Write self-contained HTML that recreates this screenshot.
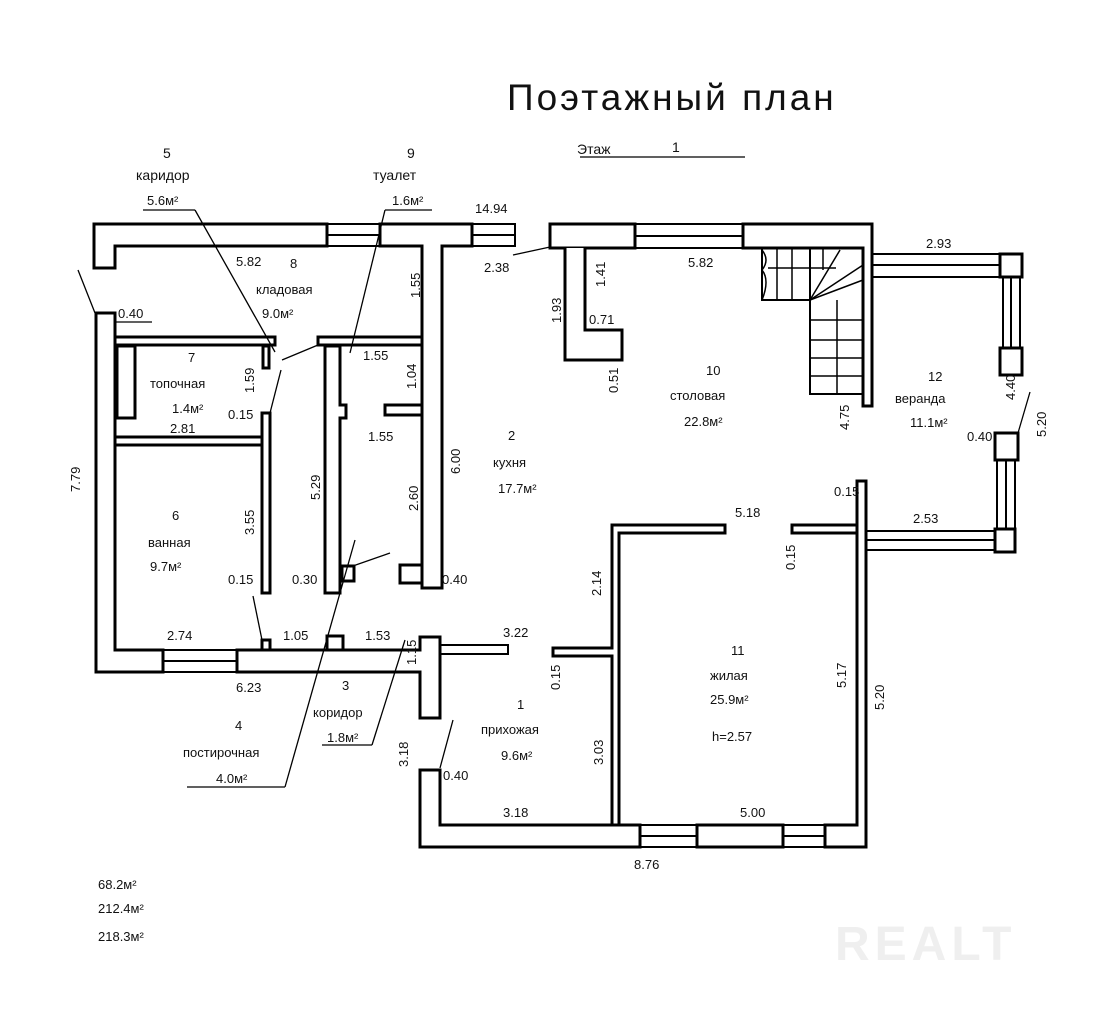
<!DOCTYPE html>
<html><head><meta charset="utf-8"><style>
html,body{margin:0;padding:0;background:#fff;}
svg{display:block;}
text{font-family:"Liberation Sans","DejaVu Sans",sans-serif;fill:#111;}
</style></head><body>
<svg width="1107" height="1023" viewBox="0 0 1107 1023" xmlns="http://www.w3.org/2000/svg">
<g fill="#fff" stroke="#000" stroke-width="3" stroke-linejoin="miter">
<path d="M94,224 L327,224 L327,246 L115,246 L115,268 L94,268 Z"/>
<path d="M380,224 L472,224 L472,246 L442,246 L442,588 L422,588 L422,246 L380,246 Z"/>
<path d="M96,313 L115,313 L115,650 L163,650 L163,672 L96,672 Z"/>
<path d="M237,650 L420,650 L420,637 L440,637 L440,718 L420,718 L420,672 L237,672 Z"/>
<rect x="115" y="337" width="160" height="8"/>
<rect x="318" y="337" width="104" height="8"/>
<rect x="115" y="437" width="148" height="8"/>
<rect x="117" y="346" width="18" height="72"/>
<rect x="262" y="413" width="8" height="180"/>
<rect x="263" y="346" width="6" height="22"/>
<path d="M325,346 L340,346 L340,405 L346,405 L346,418 L340,418 L340,593 L325,593 Z"/>
<rect x="385" y="405" width="37" height="10"/>
<rect x="400" y="565" width="22" height="18"/>
<rect x="342" y="566" width="12" height="15"/>
<rect x="262" y="640" width="8" height="10"/>
<rect x="327" y="636" width="16" height="14"/>
<path d="M550,224 L635,224 L635,248 L550,248 Z"/>
<path d="M743,224 L872,224 L872,406 L863,406 L863,248 L743,248 Z"/>
<path d="M565,248 L565,360 L622,360 L622,330 L585,330 L585,248"/>
<path d="M420,770 L440,770 L440,825 L640,825 L640,847 L420,847 Z"/>
<rect x="697" y="825" width="86" height="22"/>
<path d="M825,825 L857,825 L857,481 L866,481 L866,847 L825,847 Z"/>
<path d="M612,525 L725,525 L725,533 L619,533 L619,825 L612,825 L612,656 L553,656 L553,648 L612,648 Z"/>
<rect x="792" y="525" width="65" height="8"/>
<rect x="1000" y="254" width="22" height="23"/>
<rect x="1000" y="348" width="22" height="27"/>
<rect x="995" y="433" width="23" height="27"/>
<rect x="995" y="529" width="20" height="23"/>
</g>
<g fill="none" stroke="#000" stroke-width="2">
<rect x="327" y="224" width="53" height="22"/><line x1="327" y1="235" x2="380" y2="235"/>
<rect x="472" y="224" width="43" height="22"/><line x1="472" y1="235" x2="515" y2="235"/>
<rect x="163" y="650" width="74" height="22"/><line x1="163" y1="661" x2="237" y2="661"/>
<rect x="440" y="645" width="68" height="9"/>
<rect x="635" y="224" width="108" height="24"/><line x1="635" y1="236" x2="743" y2="236"/>
<rect x="640" y="825" width="57" height="22"/><line x1="640" y1="836" x2="697" y2="836"/>
<rect x="783" y="825" width="42" height="22"/><line x1="783" y1="836" x2="825" y2="836"/>
<rect x="872" y="254" width="128" height="23"/><line x1="872" y1="265" x2="1000" y2="265"/>
<rect x="1003" y="277" width="17" height="71"/><line x1="1011" y1="277" x2="1011" y2="348"/>
<rect x="997" y="460" width="18" height="69"/><line x1="1006" y1="460" x2="1006" y2="529"/>
<rect x="866" y="531" width="129" height="19"/><line x1="866" y1="540" x2="995" y2="540"/>
<path d="M762,248 L762,300 L810,300 L810,394 L863,394"/>
<line x1="810" y1="300" x2="810" y2="248"/>
<g stroke-width="1.5">
<line x1="777" y1="248" x2="777" y2="300"/><line x1="792" y1="248" x2="792" y2="300"/>
<line x1="810" y1="248" x2="810" y2="300"/><line x1="823" y1="248" x2="823" y2="270"/>
<line x1="810" y1="320" x2="863" y2="320"/><line x1="810" y1="340" x2="863" y2="340"/>
<line x1="810" y1="358" x2="863" y2="358"/><line x1="810" y1="376" x2="863" y2="376"/>
<line x1="837" y1="300" x2="837" y2="394"/>
<line x1="810" y1="300" x2="840" y2="250"/><line x1="810" y1="300" x2="863" y2="265"/><line x1="810" y1="300" x2="863" y2="280"/>
<line x1="768" y1="268" x2="836" y2="268"/>
<path d="M762,250 q8,10 0,20 q8,10 0,30"/>
</g>
<g stroke-width="1.3">
<line x1="143" y1="210" x2="195" y2="210"/><line x1="195" y1="210" x2="275" y2="352"/>
<line x1="385" y1="210" x2="432" y2="210"/><line x1="385" y1="210" x2="350" y2="353"/>
<line x1="78" y1="270" x2="95" y2="313"/>
<line x1="513" y1="255" x2="550" y2="247"/>
<line x1="282" y1="360" x2="318" y2="345"/>
<line x1="281" y1="370" x2="270" y2="413"/>
<line x1="1030" y1="392" x2="1018" y2="433"/>
<line x1="253" y1="596" x2="262" y2="640"/>
<line x1="355" y1="540" x2="285" y2="787"/><line x1="187" y1="787" x2="285" y2="787"/>
<line x1="390" y1="553" x2="350" y2="567"/>
<line x1="405" y1="640" x2="372" y2="745"/><line x1="322" y1="745" x2="372" y2="745"/>
<line x1="453" y1="720" x2="440" y2="768"/>
<line x1="580" y1="157" x2="745" y2="157"/>
<line x1="114" y1="322" x2="152" y2="322"/>
</g>
</g>
<g font-size="13">
<text x="507" y="110" font-size="37" letter-spacing="3" font-weight="300">Поэтажный план</text>
<text x="577" y="154" font-size="14">Этаж</text>
<text x="672" y="152" font-size="14">1</text>
<text x="163" y="158" font-size="14">5</text>
<text x="136" y="180" font-size="14">каридор</text>
<text x="147" y="205" font-size="13">5.6м²</text>
<text x="407" y="158" font-size="14">9</text>
<text x="373" y="180" font-size="14">туалет</text>
<text x="392" y="205">1.6м²</text>
<text x="475" y="213">14.94</text>
<text x="236" y="266">5.82</text>
<text x="290" y="268">8</text>
<text x="256" y="294">кладовая</text>
<text x="262" y="318">9.0м²</text>
<text x="118" y="318">0.40</text>
<text x="188" y="362">7</text>
<text x="150" y="388">топочная</text>
<text x="172" y="413">1.4м²</text>
<text x="228" y="419">0.15</text>
<text x="170" y="433">2.81</text>
<text x="363" y="360">1.55</text>
<text x="368" y="441">1.55</text>
<text x="172" y="520">6</text>
<text x="148" y="547">ванная</text>
<text x="150" y="571">9.7м²</text>
<text x="228" y="584">0.15</text>
<text x="292" y="584">0.30</text>
<text x="442" y="584">0.40</text>
<text x="167" y="640">2.74</text>
<text x="283" y="640">1.05</text>
<text x="365" y="640">1.53</text>
<text x="236" y="692">6.23</text>
<text x="342" y="690">3</text>
<text x="313" y="717">коридор</text>
<text x="327" y="742">1.8м²</text>
<text x="235" y="730">4</text>
<text x="183" y="757">постирочная</text>
<text x="216" y="783">4.0м²</text>
<text x="503" y="637">3.22</text>
<text x="517" y="709">1</text>
<text x="481" y="734">прихожая</text>
<text x="501" y="760">9.6м²</text>
<text x="443" y="780">0.40</text>
<text x="503" y="817">3.18</text>
<text x="634" y="869">8.76</text>
<text x="484" y="272">2.38</text>
<text x="688" y="267">5.82</text>
<text x="589" y="324">0.71</text>
<text x="706" y="375">10</text>
<text x="670" y="400">столовая</text>
<text x="684" y="426">22.8м²</text>
<text x="508" y="440">2</text>
<text x="493" y="467">кухня</text>
<text x="498" y="493">17.7м²</text>
<text x="735" y="517">5.18</text>
<text x="834" y="496">0.15</text>
<text x="928" y="381">12</text>
<text x="895" y="403">веранда</text>
<text x="910" y="427">11.1м²</text>
<text x="967" y="441">0.40</text>
<text x="926" y="248">2.93</text>
<text x="913" y="523">2.53</text>
<text x="731" y="655">11</text>
<text x="710" y="680">жилая</text>
<text x="710" y="704">25.9м²</text>
<text x="712" y="741">h=2.57</text>
<text x="740" y="817">5.00</text>
<text x="98" y="889">68.2м²</text>
<text x="98" y="913">212.4м²</text>
<text x="98" y="941">218.3м²</text>
</g>
<g font-size="13">
<text transform="translate(420,298) rotate(-90)">1.55</text>
<text transform="translate(254,393) rotate(-90)">1.59</text>
<text transform="translate(416,389) rotate(-90)">1.04</text>
<text transform="translate(460,474) rotate(-90)">6.00</text>
<text transform="translate(418,511) rotate(-90)">2.60</text>
<text transform="translate(320,500) rotate(-90)">5.29</text>
<text transform="translate(254,535) rotate(-90)">3.55</text>
<text transform="translate(416,665) rotate(-90)">1.15</text>
<text transform="translate(408,767) rotate(-90)">3.18</text>
<text transform="translate(80,492) rotate(-90)">7.79</text>
<text transform="translate(605,287) rotate(-90)">1.41</text>
<text transform="translate(561,323) rotate(-90)">1.93</text>
<text transform="translate(618,393) rotate(-90)">0.51</text>
<text transform="translate(849,430) rotate(-90)">4.75</text>
<text transform="translate(1015,400) rotate(-90)">4.40</text>
<text transform="translate(1046,437) rotate(-90)">5.20</text>
<text transform="translate(601,596) rotate(-90)">2.14</text>
<text transform="translate(795,570) rotate(-90)">0.15</text>
<text transform="translate(560,690) rotate(-90)">0.15</text>
<text transform="translate(603,765) rotate(-90)">3.03</text>
<text transform="translate(846,688) rotate(-90)">5.17</text>
<text transform="translate(884,710) rotate(-90)">5.20</text>
</g>
<text x="835" y="960" font-size="48" font-weight="bold" letter-spacing="5" style="fill:#efefef">REALT</text>
</svg>
</body></html>
